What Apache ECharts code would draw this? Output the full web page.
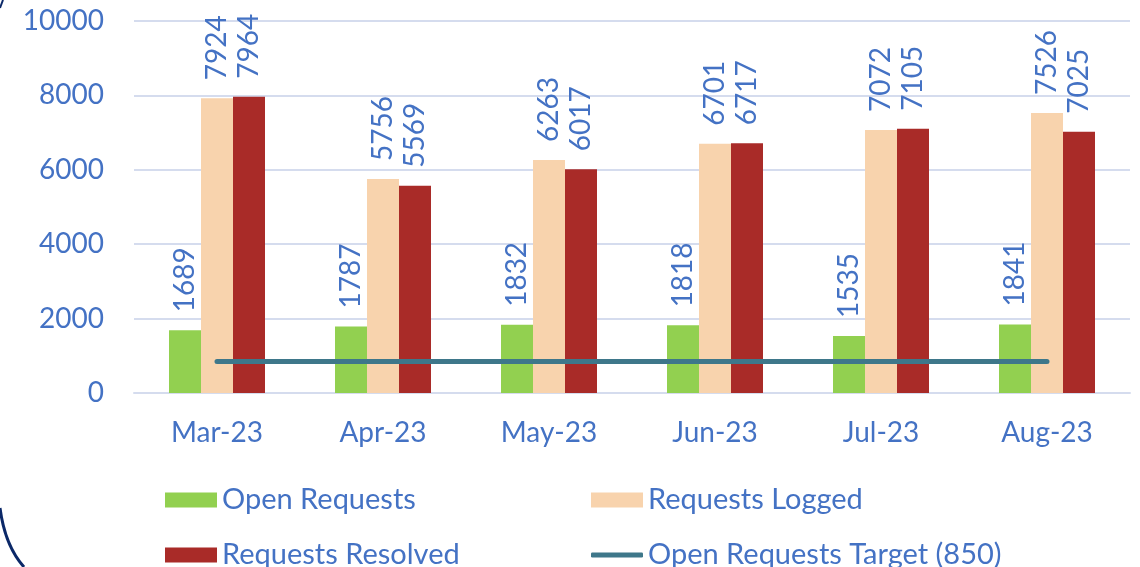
<!DOCTYPE html>
<html>
<head>
<meta charset="utf-8">
<script src="https://cdn.jsdelivr.net/npm/echarts@6/dist/echarts.min.js"></script>
<style>
    html, body { margin: 0; padding: 0; background: #fff; }
    #chart { width: 1140px; height: 567px; }
</style>
</head>
<body>
<div id="chart"></div>
<script>
    // chart data
    var months = ['Mar-23', 'Apr-23', 'May-23', 'Jun-23', 'Jul-23', 'Aug-23'];
    var openRequests = [1689, 1787, 1832, 1818, 1535, 1841];
    var requestsLogged = [7924, 5756, 6263, 6701, 7072, 7526];
    var requestsResolved = [7964, 5569, 6017, 6717, 7105, 7025];
    var openTarget = [850, 850, 850, 850, 850, 850];

    var blue = '#4472C4';
    var font = 'Lato, "Open Sans", sans-serif';

    var barLabel = {
        show: true,
        position: 'top',
        rotate: 90,
        align: 'left',
        verticalAlign: 'middle',
        distance: 18,
        color: blue,
        fontFamily: font,
        fontSize: 28
    };

    // one legend per item so the 2x2 layout lines up
    function legendAt(name, left, top, height, icon) {
        return {
            left: left,
            top: top,
            itemWidth: 52,
            itemHeight: height,
            icon: icon,
            textStyle: { color: blue, fontSize: 29, fontFamily: font, lineHeight: 30 },
            data: [name]
        };
    }

    var chart = echarts.init(document.getElementById('chart'));
    chart.setOption({
        animation: false,
        textStyle: { fontFamily: font },
        grid: { left: 134, right: 10, top: 21, bottom: 174 },
        legend: [
            legendAt('Open Requests', 160, 480, 15, 'rect'),
            legendAt('Requests Resolved', 160, 535, 15, 'rect'),
            legendAt('Requests Logged', 586, 480, 15, 'rect'),
            legendAt('Open Requests Target (850)', 586, 535, 5, 'roundRect')
        ],
        xAxis: {
            type: 'category',
            data: months,
            axisLine: { show: true, lineStyle: { color: '#D5DCEE', width: 2 } },
            axisTick: { show: false },
            axisLabel: { color: blue, fontSize: 28, fontFamily: font, margin: 26 }
        },
        yAxis: {
            type: 'value',
            min: 0,
            max: 10000,
            interval: 2000,
            axisLine: { show: false },
            axisTick: { show: false },
            splitLine: { lineStyle: { color: '#D5DCEE', width: 2 } },
            axisLabel: {
                color: blue, fontSize: 28, fontFamily: font, margin: 30,
                formatter: function (v) { return String(v); }
            }
        },
        series: [{
            name: 'Open Requests',
            type: 'bar',
            barWidth: 32,
            barGap: '0%',
            itemStyle: { color: '#92D050' },
            label: barLabel,
            data: openRequests
        }, {
            name: 'Requests Logged',
            type: 'bar',
            barWidth: 32,
            barGap: '0%',
            itemStyle: { color: '#F8D3AD' },
            label: barLabel,
            data: requestsLogged
        }, {
            name: 'Requests Resolved',
            type: 'bar',
            barWidth: 32,
            barGap: '0%',
            itemStyle: { color: '#A92B28' },
            label: barLabel,
            data: requestsResolved
        }, {
            name: 'Open Requests Target (850)',
            type: 'line',
            symbol: 'none',
            z: 5,
            lineStyle: { color: '#3E778A', width: 5, cap: 'round' },
            itemStyle: { color: '#3E778A' },
            data: openTarget
        }],
        graphic: [{
            // corners of the slide frame
            type: 'bezierCurve',
            shape: { x1: 0, y1: 508, cpx1: 5, cpy1: 546, x2: 24, y2: 567 },
            style: { fill: null, stroke: '#0B2868', lineWidth: 3 }
        }, {
            type: 'line',
            shape: { x1: 0, y1: 8, x2: 3, y2: 0 },
            style: { stroke: '#0B2868', lineWidth: 2 }
        }]
    });
</script>
</body>
</html>
